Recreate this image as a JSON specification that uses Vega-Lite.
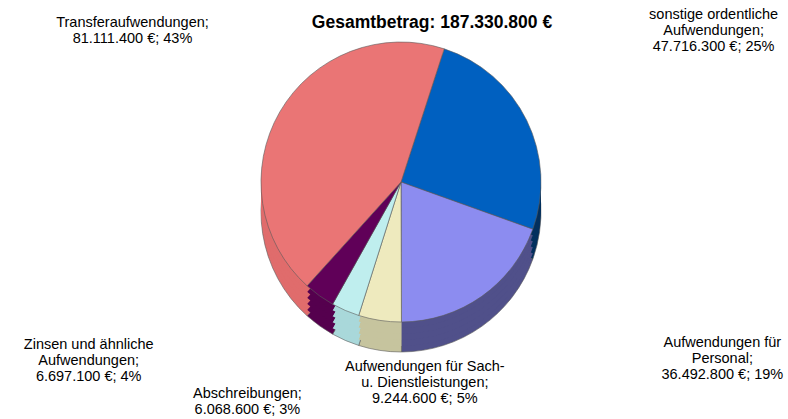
{
  "$schema": "https://vega.github.io/schema/vega-lite/v6.json",
  "width": 774,
  "height": 280,
  "autosize": {"type": "none"},
  "padding": {"left": 14, "top": 42, "right": 0, "bottom": 97},
  "background": "white",
  "config": {"view": {"stroke": null}, "font": "Liberation Sans"},
  "title": {
    "text": "Gesamtbetrag: 187.330.800 €",
    "font": "Liberation Sans",
    "fontSize": 17.5,
    "fontWeight": "bold",
    "color": "#000000",
    "anchor": "middle",
    "frame": "group",
    "baseline": "alphabetic",
    "offset": -38,
    "dx": 31
  },
  "data": {
    "values": [
      {"rank": 1, "kategorie": "sonstige ordentliche Aufwendungen", "betrag": 47716300, "label": ["sonstige ordentliche", "Aufwendungen;", "47.716.300 €; 25%"]},
      {"rank": 2, "kategorie": "Aufwendungen für Personal", "betrag": 36492800, "label": ["Aufwendungen für", "Personal;", "36.492.800 €; 19%"]},
      {"rank": 3, "kategorie": "Aufwendungen für Sach- u. Dienstleistungen", "betrag": 9244600, "label": ["Aufwendungen für Sach-", "u. Dienstleistungen;", "9.244.600 €; 5%"]},
      {"rank": 4, "kategorie": "Abschreibungen", "betrag": 6068600, "label": ["Abschreibungen;", "6.068.600 €; 3%"]},
      {"rank": 5, "kategorie": "Zinsen und ähnliche Aufwendungen", "betrag": 6697100, "label": ["Zinsen und ähnliche", "Aufwendungen;", "6.697.100 €; 4%"]},
      {"rank": 6, "kategorie": "Transferaufwendungen", "betrag": 81111400, "label": ["Transferaufwendungen;", "81.111.400 €; 43%"]}
    ]
  },
  "layer": [
    {
      "mark": {"type": "arc", "outerRadius": 140, "yOffset": 30, "stroke": "#5a5a5a", "strokeWidth": 0.6},
      "encoding": {
        "theta": {"field": "betrag", "type": "quantitative", "stack": true, "scale": {"range": [0.314, 6.597]}},
        "order": {"field": "rank", "type": "quantitative"},
        "fill": {"field": "kategorie", "type": "nominal", "legend": null,
          "scale": {"domain": ["sonstige ordentliche Aufwendungen", "Aufwendungen für Personal", "Aufwendungen für Sach- u. Dienstleistungen", "Abschreibungen", "Zinsen und ähnliche Aufwendungen", "Transferaufwendungen"],
                    "range": ["#03305e", "#50508a", "#c6c49e", "#a9d8da", "#55004e", "#e06c6c"]}}
      }
    },
    {
      "mark": {"type": "arc", "outerRadius": 140, "yOffset": 24, "strokeWidth": 0},
      "encoding": {
        "theta": {"field": "betrag", "type": "quantitative", "stack": true},
        "order": {"field": "rank", "type": "quantitative"},
        "fill": {"field": "kategorie", "type": "nominal", "legend": null}
      }
    },
    {
      "mark": {"type": "arc", "outerRadius": 140, "yOffset": 18, "strokeWidth": 0},
      "encoding": {
        "theta": {"field": "betrag", "type": "quantitative", "stack": true},
        "order": {"field": "rank", "type": "quantitative"},
        "fill": {"field": "kategorie", "type": "nominal", "legend": null}
      }
    },
    {
      "mark": {"type": "arc", "outerRadius": 140, "yOffset": 12, "strokeWidth": 0},
      "encoding": {
        "theta": {"field": "betrag", "type": "quantitative", "stack": true},
        "order": {"field": "rank", "type": "quantitative"},
        "fill": {"field": "kategorie", "type": "nominal", "legend": null}
      }
    },
    {
      "mark": {"type": "arc", "outerRadius": 140, "yOffset": 6, "strokeWidth": 0},
      "encoding": {
        "theta": {"field": "betrag", "type": "quantitative", "stack": true},
        "order": {"field": "rank", "type": "quantitative"},
        "fill": {"field": "kategorie", "type": "nominal", "legend": null}
      }
    },
    {
      "mark": {"type": "arc", "outerRadius": 140, "stroke": "#5a5a5a", "strokeWidth": 0.6},
      "encoding": {
        "theta": {"field": "betrag", "type": "quantitative", "stack": true},
        "order": {"field": "rank", "type": "quantitative"},
        "color": {"field": "kategorie", "type": "nominal", "legend": null,
          "scale": {"domain": ["sonstige ordentliche Aufwendungen", "Aufwendungen für Personal", "Aufwendungen für Sach- u. Dienstleistungen", "Abschreibungen", "Zinsen und ähnliche Aufwendungen", "Transferaufwendungen"],
                    "range": ["#0060c0", "#8c8cf0", "#eeeabe", "#bfeeee", "#600058", "#ea7575"]}}
      }
    },
    {
      "mark": {
        "type": "text",
        "radius": 160,
        "font": "Liberation Sans",
        "fontSize": 14.5,
        "lineHeight": 16,
        "align": "center",
        "baseline": "middle",
        "color": "#000000",
        "dx": {"expr": "[0, 169, 229, 48, -90, -219, -130][datum.rank]"},
        "dy": {"expr": "[0, -96, 30, 27, 65, 33, -79][datum.rank]"}
      },
      "encoding": {
        "theta": {"field": "betrag", "type": "quantitative", "stack": true},
        "order": {"field": "rank", "type": "quantitative"},
        "text": {"field": "label"}
      }
    }
  ]
}
